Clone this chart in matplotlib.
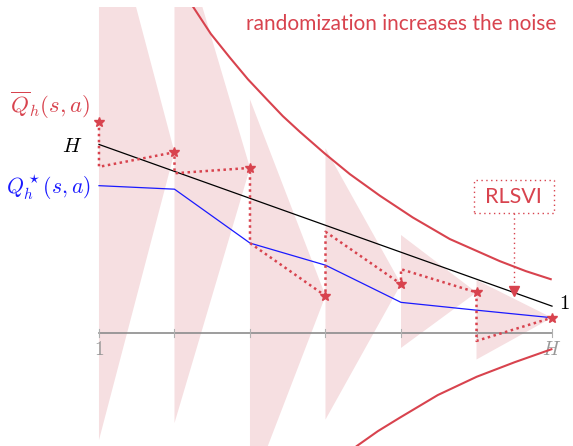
import matplotlib
matplotlib.use("Agg")
import matplotlib.pyplot as plt
from matplotlib.patches import Polygon, Rectangle

plt.rcParams['mathtext.fontset'] = 'cm'

# stage index h = 1..H
steps = [1, 2, 3, 4, 5, 6, 7]
upper_bound = [7, 6, 5, 4, 3, 2, 1]            # H - h + 1
q_star = [5.47, 5.34, 3.34, 2.52, 1.14, 0.85, 0.57]
qbar_star = [7.84, 6.71, 6.13, 1.38, 1.82, 1.51, 0.57]   # starred estimates
qbar_base = [6.17, 5.93, 3.34, 3.76, 2.37, -0.29]        # value the next backup starts from

# noise spread at the left edge of each wedge
wedge_top = [17.3, 15.6, 8.67, 6.85, 3.64, 1.97]
wedge_bottom = [-3.97, -3.34, -5.91, -3.21, -0.55, -0.98]

# envelope of the randomization noise
env_up_h = [2.178, 2.248, 2.482, 2.734, 2.972, 3.224, 3.435, 3.660, 3.991,
            4.322, 4.719, 5.156, 5.646, 6.308, 6.652, 6.983]
env_up_v = [12.36, 12.10, 11.10, 10.22, 9.42, 8.67, 8.05, 7.47, 6.66,
            5.90, 5.10, 4.29, 3.49, 2.67, 2.30, 2.00]
env_lo_h = [4.415, 4.693, 4.984, 5.487, 6.003, 6.506, 6.992]
env_lo_v = [-4.19, -3.64, -3.14, -2.30, -1.62, -1.08, -0.60]

red = '#d8434e'
pink = '#f6dfe1'
blue = '#1a1aff'
gray = '#8c8c8c'

fig = plt.figure(figsize=(5.73, 4.46), dpi=100)
ax = fig.add_axes([0, 0, 1, (446 - 7) / 446])
ax.set_xlim(-0.311, 7.278)
ax.set_ylim(-4.19, 12.1)
ax.axis('off')

# pink noise wedges, apex at the next starred estimate
for i in range(len(wedge_top)):
    tri = Polygon([(steps[i], wedge_top[i]), (steps[i], wedge_bottom[i]),
                   (steps[i + 1], qbar_star[i + 1])],
                  closed=True, facecolor=pink, edgecolor='none', zorder=1)
    ax.add_patch(tri)

# horizontal axis with ticks
ax.plot([steps[0], steps[-1]], [0, 0], color=gray, lw=1.2, zorder=2)
for h in steps:
    ax.plot([h, h], [-0.15, 0.15], color='#b0b0b0', lw=0.8, zorder=2)
ax.text(steps[0], -0.62, '$1$', color='#999999', fontsize=14, ha='center', va='center')
ax.text(steps[-1], -0.62, '$H$', color='#999999', fontsize=14, ha='center', va='center')

# noise envelope
ax.plot(env_up_h, env_up_v, color=red, lw=1.5, zorder=3)
ax.plot(env_lo_h, env_lo_v, color=red, lw=1.5, zorder=3)

# H - h + 1 and optimal Q
ax.plot(steps, upper_bound, color='black', lw=0.9, zorder=4)
ax.plot(steps, q_star, color=blue, lw=0.9, zorder=4)

# dotted backup path of the randomized estimate
path_x, path_y = [], []
for i in range(len(qbar_base)):
    path_x += [steps[i], steps[i]]
    path_y += [qbar_star[i], qbar_base[i]]
path_x.append(steps[-1])
path_y.append(qbar_star[-1])
ax.plot(path_x, path_y, color=red, lw=1.8, ls=(0, (1, 1.4)), zorder=5)
ax.plot(steps, qbar_star, ls='none', marker='*', ms=7.5, color=red, zorder=6)

# labels
ax.text(0.894, 8.45, r'$\overline{Q}_h(s,a)$', color=red, fontsize=16.5, ha='right', va='center')
ax.text(0.643, 6.95, '$H$', color='black', fontsize=15, ha='center', va='center')
ax.text(0.894, 5.42, r'$Q_h^\star(s,a)$', color=blue, fontsize=15.5, ha='right', va='center')
ax.text(7.17, 1.12, '$1$', color='black', fontsize=15, ha='center', va='center')

ax.text(4.997, 11.46, 'randomization increases the noise', color=red,
        fontsize=15, family='Lato', ha='center', va='center')

# RLSVI callout
ax.add_patch(Rectangle((5.964, 4.45), 1.059, 1.23, fill=False, edgecolor=red,
                       lw=1, ls=(0, (1, 2.5)), zorder=7))
ax.text(6.493, 5.05, 'RLSVI', color=red, fontsize=15.5, family='Lato',
        ha='center', va='center', zorder=7)
ax.plot([6.493, 6.493], [4.45, 1.7], color=red, lw=1, ls=(0, (1, 2.5)), zorder=7)
ax.plot(6.493, 1.58, marker='v', ms=7, color=red, ls='none', zorder=7)

fig.savefig('out.png', dpi=100)
